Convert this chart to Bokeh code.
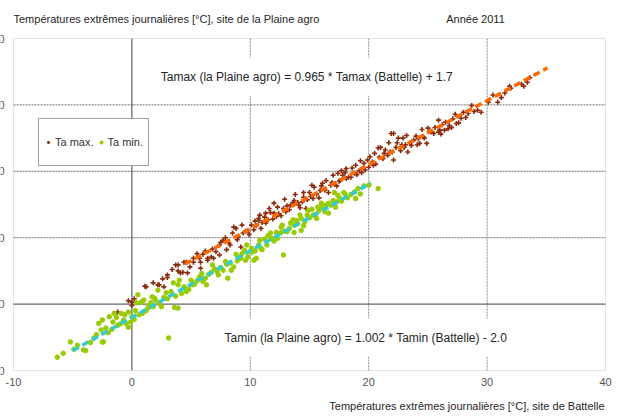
from bokeh.plotting import figure
from bokeh.models import Label, Legend, LegendItem, Range1d, BoxAnnotation
from bokeh.core.properties import value
from bokeh.embed import file_html
from bokeh.resources import INLINE

# ---------------- data ----------------
tamax_pts = [
    (-1.4, -1.4), (-1.2, -1.2), (-0.3, 0.5), (0.0, -0.2), (0.0, 0.3), (0.2, 0.8), (1.1, 2.7), (1.2, 2.6),
    (1.8, 3.2), (2.2, 2.9), (2.3, 2.9), (2.6, 3.8), (2.7, 2.6), (3.0, 4.4), (3.0, 4.0), (3.4, 5.2),
    (3.7, 5.9), (3.9, 5.0), (3.9, 5.9), (4.1, 4.7), (4.3, 4.8), (4.4, 6.3), (4.6, 6.3), (4.7, 4.7),
    (4.9, 5.6), (5.2, 6.3), (5.2, 6.9), (5.5, 7.6), (5.7, 6.9), (5.8, 5.4), (5.8, 6.3), (6.0, 7.5),
    (6.2, 8.0), (6.4, 6.6), (6.4, 6.9), (6.7, 7.1), (6.8, 8.3), (6.9, 6.9), (7.1, 7.9), (7.4, 7.4),
    (7.4, 8.9), (7.5, 9.3), (7.7, 9.6), (7.9, 10.0), (8.0, 8.2), (8.2, 9.2), (8.3, 8.9), (8.5, 10.7),
    (8.6, 11.6), (8.8, 11.4), (8.9, 9.7), (9.0, 10.1), (9.2, 8.6), (9.3, 11.9), (9.4, 10.7), (9.6, 11.0),
    (9.8, 11.1), (9.9, 10.5), (10.1, 11.9), (10.3, 11.2), (10.4, 12.5), (10.5, 11.8), (10.7, 12.6),
    (10.7, 12.9), (10.8, 13.4), (10.9, 11.4), (11.0, 12.3), (11.2, 13.1), (11.3, 12.2), (11.3, 13.7),
    (11.5, 12.7), (11.6, 14.4), (11.7, 13.8), (11.9, 12.8), (12.0, 13.7), (12.0, 15.2), (12.2, 13.2),
    (12.3, 14.6), (12.4, 13.6), (12.6, 13.3), (12.8, 14.4), (12.9, 15.8), (13.0, 13.9), (13.1, 14.8),
    (13.3, 14.2), (13.4, 14.9), (13.6, 15.3), (13.7, 15.6), (13.8, 16.5), (14.0, 15.3), (14.1, 14.9),
    (14.2, 14.5), (14.4, 15.4), (14.5, 16.1), (14.5, 16.8), (14.7, 14.4), (14.8, 15.7), (15.0, 16.8),
    (15.1, 16.2), (15.2, 17.9), (15.3, 15.9), (15.4, 17.6), (15.6, 16.6), (15.8, 16.0), (15.9, 17.1),
    (16.0, 17.8), (16.1, 18.2), (16.3, 17.2), (16.4, 18.6), (16.6, 16.8), (16.8, 17.9), (16.9, 18.3),
    (17.0, 19.4), (17.1, 18.1), (17.3, 17.8), (17.4, 19.7), (17.5, 18.5), (17.6, 18.6), (17.7, 20.1),
    (17.8, 19.4), (18.0, 19.8), (18.1, 20.4), (18.1, 18.9), (18.3, 19.1), (18.5, 19.1), (18.6, 20.5),
    (18.8, 19.7), (18.9, 20.9), (19.0, 19.5), (19.2, 20.1), (19.3, 21.6), (19.4, 19.8), (19.6, 21.2),
    (19.7, 20.2), (19.9, 21.7), (20.0, 20.6), (20.1, 22.2), (20.3, 21.4), (20.4, 20.9), (20.5, 22.7),
    (20.6, 21.1), (20.8, 23.5), (20.9, 22.1), (21.0, 23.6), (21.2, 21.9), (21.3, 22.7), (21.4, 23.2),
    (21.6, 22.4), (21.7, 24.3), (21.8, 22.9), (21.9, 25.7), (22.0, 22.9), (22.1, 21.7), (22.1, 25.7),
    (22.3, 23.6), (22.4, 24.3), (22.5, 25.0), (22.7, 23.1), (22.8, 24.0), (22.9, 25.0), (23.0, 23.6),
    (23.1, 24.0), (23.2, 25.4), (23.3, 22.9), (23.5, 24.3), (23.6, 23.9), (23.8, 24.7), (24.0, 25.3),
    (24.1, 24.0), (24.2, 24.9), (24.3, 24.2), (24.5, 26.3), (24.6, 25.2), (24.7, 25.0), (24.9, 24.2),
    (25.0, 26.5), (25.2, 26.0), (25.3, 25.9), (25.5, 25.7), (25.6, 26.6), (25.9, 25.9), (25.9, 27.7),
    (26.0, 26.2), (26.1, 25.6), (26.2, 27.0), (26.4, 26.2), (26.5, 27.4), (26.7, 26.4), (26.8, 26.9),
    (27.0, 26.6), (27.1, 27.9), (27.3, 28.6), (27.4, 27.2), (27.6, 27.3), (27.8, 28.0), (28.0, 28.9),
    (28.2, 28.1), (28.4, 28.7), (28.7, 29.9), (28.9, 29.0), (29.2, 29.2), (29.5, 28.9), (30.1, 30.4),
    (30.5, 31.5), (30.9, 30.4), (31.2, 31.1), (31.5, 31.8), (31.9, 32.8), (32.0, 32.5), (32.9, 33.1),
    (33.1, 32.8), (33.4, 33.4), (33.6, 34.1),
]
tamin_pts = [
    (-6.3, -8.0), (-5.8, -7.4), (-5.2, -5.7), (-4.9, -6.8), (-4.6, -6.2), (-4.1, -6.9), (-3.9, -7.0),
    (-3.5, -5.8), (-3.2, -5.1), (-3.0, -4.6), (-2.8, -2.9), (-2.6, -3.9), (-2.5, -5.7), (-2.5, -2.4),
    (-2.4, -5.7), (-2.2, -3.6), (-2.0, -4.3), (-1.9, -1.9), (-1.7, -3.8), (-1.6, -2.7), (-1.5, -1.4),
    (-1.3, -2.0), (-1.2, -3.2), (-1.0, -3.0), (-0.9, -1.4), (-0.7, -2.4), (-0.6, -1.6), (-0.5, -2.9),
    (-0.3, -3.5), (-0.3, -1.2), (-0.1, -2.7), (0.0, -1.9), (0.2, -2.3), (0.3, -1.0), (0.4, 0.2),
    (0.5, 1.4), (0.6, -1.6), (0.8, 0.3), (0.9, -1.4), (1.0, 0.6), (1.2, -1.0), (1.4, -0.5), (1.4, -0.2),
    (1.6, 0.2), (1.7, 1.1), (1.8, -0.4), (1.9, 0.9), (2.0, 0.6), (2.2, 2.1), (2.3, 0.1), (2.5, -0.4),
    (2.7, 1.0), (2.9, 1.7), (3.0, 0.8), (3.1, -5.1), (3.3, 1.9), (3.5, 3.2), (3.6, -0.5), (3.7, 1.2),
    (3.9, -0.6), (3.9, 2.9), (4.0, 3.6), (4.2, 1.6), (4.4, 2.6), (4.5, 2.4), (4.6, 1.9), (4.8, 2.2),
    (5.0, 3.6), (5.1, 2.9), (5.3, 3.0), (5.5, 3.5), (5.7, 4.1), (5.9, 4.6), (6.0, 3.4), (6.2, 3.9),
    (6.3, 2.9), (6.5, 4.5), (6.7, 4.8), (6.8, 5.9), (7.0, 5.3), (7.2, 4.9), (7.3, 4.4), (7.5, 5.5),
    (7.7, 5.1), (7.9, 6.4), (8.0, 6.0), (8.1, 3.9), (8.3, 6.2), (8.4, 5.1), (8.6, 5.6), (8.8, 7.5),
    (8.9, 6.5), (9.0, 7.0), (9.2, 6.9), (9.3, 7.6), (9.5, 8.1), (9.6, 6.6), (9.7, 8.9), (9.8, 7.1),
    (10.1, 7.8), (10.1, 8.4), (10.3, 6.6), (10.4, 8.0), (10.5, 6.9), (10.7, 8.9), (10.8, 9.6),
    (10.9, 8.4), (11.0, 8.2), (11.2, 9.8), (11.4, 8.9), (11.5, 10.3), (11.7, 10.7), (11.8, 9.9),
    (12.0, 9.5), (12.2, 10.8), (12.3, 9.9), (12.6, 11.6), (12.6, 10.8), (12.7, 11.9), (12.8, 7.4),
    (12.9, 11.0), (13.1, 10.9), (13.3, 11.4), (13.4, 12.2), (13.6, 12.7), (13.7, 10.8), (13.7, 11.9),
    (13.9, 12.6), (14.0, 12.1), (14.2, 13.4), (14.3, 12.9), (14.3, 11.1), (14.5, 11.8), (14.6, 12.4),
    (14.8, 13.4), (14.9, 14.1), (15.0, 13.0), (15.2, 14.3), (15.3, 13.4), (15.5, 13.5), (15.6, 12.9),
    (15.7, 14.6), (15.8, 14.1), (16.0, 15.2), (16.1, 14.6), (16.3, 13.9), (16.4, 14.9), (16.6, 15.2),
    (16.6, 13.7), (16.8, 14.9), (17.0, 15.6), (17.1, 16.8), (17.2, 14.6), (17.3, 15.4), (17.4, 16.4),
    (17.5, 16.1), (17.7, 15.5), (17.9, 16.8), (18.0, 16.6), (18.2, 16.0), (18.5, 16.5), (18.8, 16.9),
    (18.9, 15.9), (19.1, 17.4), (19.3, 16.6), (19.6, 17.8), (20.0, 17.9), (20.8, 17.4),
]
tamax_x = [p[0] for p in tamax_pts]
tamax_y = [p[1] for p in tamax_pts]
tamin_x = [p[0] for p in tamin_pts]
tamin_y = [p[1] for p in tamin_pts]

tamax_slope, tamax_icpt = 0.965, 1.7
tamin_slope, tamin_icpt = 1.002, -2.0
tamax_fit_x = [4.5, 35.1]
tamin_fit_x = [-5.0, 20.2]

x_ticks = [-10, 0, 10, 20, 30, 40]
y_ticks = [-10, 0, 10, 20, 30, 40]
x_grid = [10, 20, 30]
y_grid = [10, 20, 30]

title_text = "Températures extrêmes journalières [°C], site de la Plaine agro"
year_text = "Année 2011"
xlabel_text = "Températures extrêmes journalières [°C], site de Battelle"
tamax_eq = "Tamax (la Plaine agro) = 0.965 * Tamax (Battelle)  + 1.7"
tamin_eq = "Tamin (la Plaine agro) = 1.002 * Tamin (Battelle)  - 2.0"

FONT = "Liberation Sans"

# ---------------- layout: plot area occupies pixels 13..605 x 38..370 ----------------
W, H = 617, 416
PL, PR, PT, PB = 13, 605, 38, 370
x_min, x_max = x_ticks[0], x_ticks[-1]
y_min, y_max = y_ticks[0], y_ticks[-1]
kx = (PR - PL) / (x_max - x_min)
ky = (PB - PT) / (y_max - y_min)

p = figure(width=W, height=H, output_backend="svg", toolbar_location=None,
           x_axis_type=None, y_axis_type=None,
           x_range=Range1d(x_min - PL / kx, x_max + (W - PR) / kx),
           y_range=Range1d(y_min - (H - PB) / ky, y_max + PT / ky),
           min_border=0)
p.background_fill_color = "white"
p.border_fill_color = "white"
p.outline_line_color = None
p.xgrid.visible = False
p.ygrid.visible = False

# dotted grid lines
p.segment(x0=x_grid, y0=[y_min] * len(x_grid), x1=x_grid, y1=[y_max] * len(x_grid),
          line_color="#8a8a8a", line_width=1, line_dash="2 1")
p.segment(x0=[x_min] * len(y_grid), y0=y_grid, x1=[x_max] * len(y_grid), y1=y_grid,
          line_color="#6a6a6a", line_width=1, line_dash="2 1")
# zero lines
p.segment(x0=[0], y0=[y_min], x1=[0], y1=[y_max], line_color="#404040", line_width=1)
p.segment(x0=[x_min], y0=[0], x1=[x_max], y1=[0], line_color="#404040", line_width=1)
# plot area border
p.add_layout(BoxAnnotation(left=x_min, right=x_max, bottom=y_min, top=y_max,
                           fill_alpha=0, line_color="#a6a6a6", line_width=1))

r_max = p.scatter(tamax_x, tamax_y, marker="cross", size=5, line_width=1.6,
                  line_color="#8b2a0c")
r_min = p.scatter(tamin_x, tamin_y, marker="circle", size=4.5,
                  fill_color="#99cc00", line_color="#99cc00")

fit_max_y = [tamax_slope * v + tamax_icpt for v in tamax_fit_x]
fit_min_y = [tamin_slope * v + tamin_icpt for v in tamin_fit_x]
p.line(tamax_fit_x, fit_max_y, line_color="#ff6a00", line_width=3.5, line_dash="7 4")
p.line(tamin_fit_x, fit_min_y, line_color="#33cccc", line_width=3.5, line_dash="7 4")

# tick labels
p.text(x=x_ticks, y=[y_min] * len(x_ticks), text=[str(t) for t in x_ticks],
       y_offset=7, text_align="center", text_baseline="top",
       text_font=value(FONT), text_font_size="11px", text_color="#555555")
p.text(x=[x_min] * len(y_ticks), y=y_ticks, text=[str(t) for t in y_ticks],
       x_offset=-9, text_align="right", text_baseline="middle",
       text_font=value(FONT), text_font_size="11px", text_color="#555555")

# texts
def lab(x, y, text, align, size="11px", bg=None):
    kw = dict(background_fill_color=bg, padding=12) if bg else {}
    p.add_layout(Label(x=x, y=y, x_units="screen", y_units="screen", text=text,
                       text_align=align, text_baseline="middle", text_font=FONT,
                       text_font_size=size, text_color="#262626", **kw))

lab(PL, H - 18, title_text, "left")
lab(475, H - 18, year_text, "center")
lab(604, H - 405, xlabel_text, "right")
lab(308, H - 76, tamax_eq, "center", "12px", "white")
lab(367, H - 337, tamin_eq, "center", "12px", "white")

legend = Legend(items=[LegendItem(label="Ta max.", renderers=[r_max]),
                       LegendItem(label="Ta min.", renderers=[r_min])],
                location=(38, H - 166), orientation="horizontal",
                glyph_width=8, glyph_height=36, padding=5, spacing=3, label_standoff=3,
                label_text_font=FONT, label_text_font_size="11px", label_text_color="#333333",
                border_line_color="#404040", border_line_width=1,
                background_fill_color="white", background_fill_alpha=1.0)
p.add_layout(legend)

open("out.html", "w").write(file_html(p, INLINE))
